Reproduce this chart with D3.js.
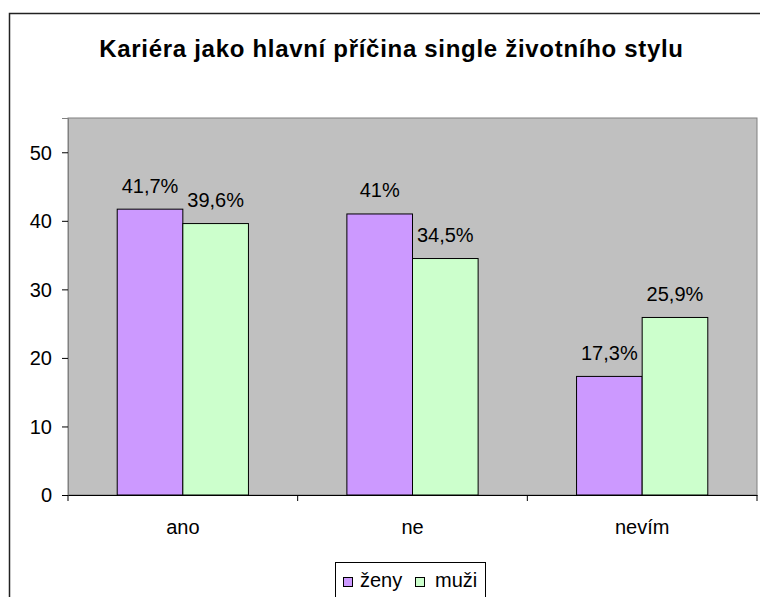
<!DOCTYPE html>
<html><head><meta charset="utf-8">
<script src="https://cdn.jsdelivr.net/npm/d3@7"></script>
<style>
html,body{margin:0;padding:0;background:#fff;}
svg{display:block;font-family:"Liberation Sans",Arial,sans-serif;}
</style></head>
<body><svg id="c" width="760" height="597"></svg>
<script>
const categories = ["ano", "ne", "nevím"];
const seriesNames = ["ženy", "muži"];
const zeny = [41.7, 41, 17.3];
const muzi = [39.6, 34.5, 25.9];
const yTicks = [0, 10, 20, 30, 40, 50];
const title = "Kariéra jako hlavní příčina single životního stylu";
const colors = ["#CC99FF", "#CCFFCC"];

const svg = d3.select("#c");
const L = 68, R = 757, T = 118, B = 495;
const FS = 20;

// outer chart border
svg.append("rect").attr("x", 9.5).attr("y", 13.5).attr("width", 790).attr("height", 640)
  .attr("fill", "#fff").attr("stroke", "#222").attr("stroke-width", 1.5);

svg.append("text").attr("x", 391.5).attr("y", 57).attr("text-anchor", "middle")
  .attr("font-size", 24).attr("font-weight", "bold").attr("letter-spacing", 0.7).text(title);

// plot area
svg.append("rect").attr("x", L).attr("y", T).attr("width", R - L).attr("height", B - T)
  .attr("fill", "#C0C0C0").attr("stroke", "#808080").attr("stroke-width", 1);

const y = d3.scaleLinear().domain([0, 55]).range([B, T]);
const x = d3.scaleBand().domain(categories).range([L, R]).padding(0);
const xs = d3.scaleBand().domain(seriesNames).range([0, x.bandwidth()]).paddingInner(0).paddingOuter(0.75);

const data = categories.map((c, i) => ({cat: c, vals: [{s: seriesNames[0], v: zeny[i]}, {s: seriesNames[1], v: muzi[i]}]}));
const fmt = v => String(v).replace(".", ",") + "%";

const g = svg.append("g");
data.forEach(d => {
  d.vals.forEach((e, j) => {
    const bx = x(d.cat) + xs(e.s);
    g.append("rect").attr("x", bx).attr("y", y(e.v)).attr("width", xs.bandwidth())
      .attr("height", B - y(e.v)).attr("fill", colors[j]).attr("stroke", "#000").attr("stroke-width", 1);
    g.append("text").attr("x", bx + xs.bandwidth() / 2).attr("y", y(e.v) - 16.5)
      .attr("text-anchor", "middle").attr("font-size", FS).text(fmt(e.v));
  });
});

// y axis
const ya = svg.append("g").attr("transform", `translate(${L},0)`)
  .call(d3.axisLeft(y).tickValues(yTicks).tickSize(6).tickPadding(10).tickFormat(d3.format("d")));
ya.select(".domain").attr("stroke", "#808080");
ya.selectAll(".tick line").attr("stroke", "#000");
ya.selectAll("text").attr("font-size", FS).attr("fill", "#000").attr("dy", "0.34em")
  .attr("font-family", "Liberation Sans, Arial, sans-serif");

// x axis
const xa = svg.append("g").attr("transform", `translate(0,${B})`)
  .call(d3.axisBottom(x).tickSize(0).tickPadding(25));
xa.select(".domain").attr("stroke", "#000");
xa.selectAll("text").attr("font-size", FS).attr("fill", "#000").attr("font-family", "Liberation Sans, Arial, sans-serif");
const bounds = categories.map(c => x(c)).concat([R]);
xa.selectAll(".bt").data(bounds).enter().append("line").attr("class", "bt")
  .attr("x1", d => d).attr("x2", d => d).attr("y1", 0).attr("y2", 6).attr("stroke", "#000");

// legend
const lg = svg.append("g");
lg.append("rect").attr("x", 335.5).attr("y", 562.5).attr("width", 150).attr("height", 50)
  .attr("fill", "#fff").attr("stroke", "#000").attr("stroke-width", 1);
const lx = [343, 415];
seriesNames.forEach((s, i) => {
  lg.append("rect").attr("x", lx[i] + 0.5).attr("y", 577.5).attr("width", 9).attr("height", 9)
    .attr("fill", colors[i]).attr("stroke", "#000");
  lg.append("text").attr("x", lx[i] + (i === 0 ? 17 : 20)).attr("y", 587).attr("font-size", FS).text(s);
});
</script></body></html>
